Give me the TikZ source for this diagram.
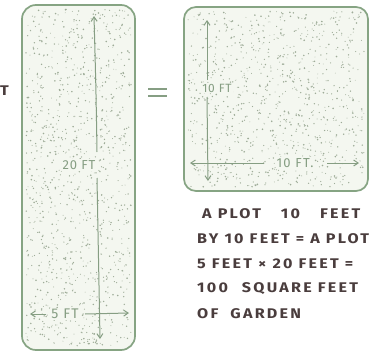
\documentclass[tikz,border=0pt]{standalone}
\usepackage{fontspec}
\setmainfont{Fira Sans}
\usetikzlibrary{arrows.meta}
\definecolor{plotline}{HTML}{86A483}
\definecolor{plotfill}{HTML}{F4F7F0}
\definecolor{speck}{HTML}{9EAC98}
\definecolor{dimcol}{HTML}{869E83}
\definecolor{inkcol}{HTML}{4A3D3D}
\tikzset{
  plotbox/.style={draw=plotline,fill=plotfill,line width=1.7pt,rounded corners=14pt},
  dimline/.style={draw=dimcol,line width=1pt,-{Straight Barb[length=4.5pt,width=6pt]}},
  dimplain/.style={draw=dimcol,line width=1pt},
  dimlabel/.style={text=dimcol,font=\fontsize{12}{13}\selectfont\addfontfeatures{LetterSpace=6},inner sep=1pt,fill=plotfill},
  caption/.style={text=inkcol,font=\fontsize{14}{15}\selectfont\bfseries\addfontfeatures{FakeStretch=1.15,LetterSpace=16},anchor=west,inner sep=0pt},
}
\begin{document}
\begin{tikzpicture}[x=1pt,y=-1pt]
\useasboundingbox (0,0) rectangle (378,362);
% plots
\draw[plotbox] (22,5) rectangle (135,350);
\draw[plotbox,rounded corners=12pt] (184,7) rectangle (368,191);
% speckles
\pgfmathsetseed{7}
\foreach \i in {1,...,1100}{
  \pgfmathsetmacro\xx{26+rnd*105}
  \pgfmathsetmacro\yy{9+rnd*337}
  \pgfmathsetmacro\rr{0.4+rnd*0.5}
  \fill[speck] (\xx,\yy) circle (\rr pt);
}
\foreach \i in {1,...,950}{
  \pgfmathsetmacro\xx{188+rnd*176}
  \pgfmathsetmacro\yy{11+rnd*176}
  \pgfmathsetmacro\rr{0.4+rnd*0.5}
  \fill[speck] (\xx,\yy) circle (\rr pt);
}
% left plot dimensions
\node[dimlabel,font=\fontsize{13}{14}\selectfont\addfontfeatures{LetterSpace=6}] (l20) at (79,165) {20 FT};
\coordinate (t20a) at (97,152);
\coordinate (t20b) at (94,16);
\coordinate (b20a) at (97,178);
\coordinate (b20b) at (100,339);
\draw[dimline] (t20a) .. controls (96,90) .. (t20b);
\draw[dimline] (b20a) -- (b20b);
\node[dimlabel,font=\fontsize{14}{15}\selectfont\addfontfeatures{LetterSpace=8}] (l5) at (65,314) {5 FT};
\coordinate (l5a) at (46,314);
\coordinate (l5b) at (30,314);
\coordinate (l5c) at (85,314);
\coordinate (l5d) at (129,313);
\draw[dimline] (l5a) -- (l5b);
\draw[dimline] (l5c) -- (l5d);
% equals sign
\coordinate (e1a) at (148,89); \coordinate (e1b) at (167,89);
\coordinate (e2a) at (148,96); \coordinate (e2b) at (167,96);
\draw[dimplain,line width=1.3pt] (e1a) -- (e1b);
\draw[dimplain,line width=1.3pt] (e2a) -- (e2b);
% right plot dimensions
\node[dimlabel] (r10v) at (217,88) {10 FT};
\coordinate (v1a) at (207,80); \coordinate (v1b) at (207,20);
\coordinate (v2a) at (207,97); \coordinate (v2b) at (208,181);
\draw[dimline] (v1a) -- (v1b);
\draw[dimline] (v2a) -- (v2b);
\node[dimlabel,font=\fontsize{13}{14}\selectfont\addfontfeatures{LetterSpace=10}] (r10h) at (295,163) {10 FT.};
\coordinate (h1a) at (264,163); \coordinate (h1b) at (190,163);
\coordinate (h2a) at (327,163); \coordinate (h2b) at (359,163);
\draw[dimline] (h1a) -- (h1b);
\draw[dimline] (h2a) -- (h2b);
% caption
\node[caption] (c1) at (202,214) {A PLOT\hspace{20pt}10\hspace{20pt}FEET};
\node[caption] (c2) at (197,239) {BY 10 FEET = A PLOT};
\node[caption] (c3) at (197,264) {5 FEET × 20 FEET =};
\node[caption] (c4) at (197,289) {100\hspace{14pt}SQUARE FEET};
\node[caption] (c5) at (197,314) {OF\hspace{12pt}GARDEN};
% letter at the left edge
\node[caption,anchor=west] (tcut) at (0,91) {T};
\end{tikzpicture}
\end{document}
